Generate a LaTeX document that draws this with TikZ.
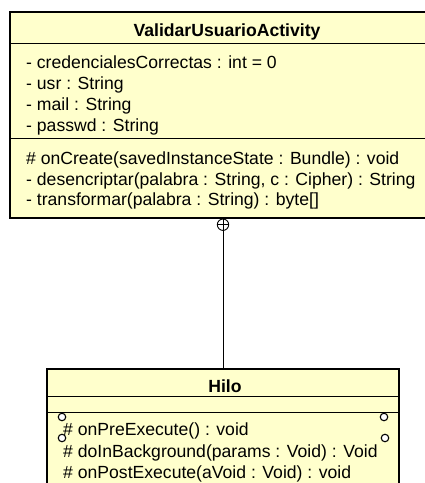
\documentclass[tikz,border=0pt]{standalone}
\usepackage{fontspec}
\setmainfont{Liberation Sans}
\usetikzlibrary{positioning}
\definecolor{umlfill}{RGB}{255, 255, 204}

\begin{document}
\begin{tikzpicture}[x=1pt, y=-1pt,
  classbox/.style={draw=black, line width=1.6pt, fill=umlfill, inner sep=0pt},
  member/.style={anchor=base west, inner sep=0pt, font=\fontsize{17.6}{21}\selectfont},
  classname/.style={anchor=base, inner sep=0pt, font=\fontsize{17.6}{21}\selectfont\bfseries},
  port/.style={draw, circle, fill=white, line width=1.1pt, minimum size=7.5pt, inner sep=0pt}
]
  \useasboundingbox (0,0) rectangle (424,483);

  % ValidarUsuarioActivity
  \node[classbox, minimum width=434pt, minimum height=206pt] (validar) at (227,115) {};
  \draw[line width=1pt] (validar.west |- 0,43) -- (validar.east |- 0,43);
  \draw[line width=1pt] (validar.west |- 0,138) -- (validar.east |- 0,138);
  \node[classname] (validarname) at (227,36) {ValidarUsuarioActivity};
  \node[member] (attr1) at (26,68) {- credencialesCorrectas : int = 0};
  \node[member] (attr2) at (26,89) {- usr : String};
  \node[member] (attr3) at (26,110) {- mail : String};
  \node[member] (attr4) at (26,131) {- passwd : String};
  \node[member] (op1) at (26,164) {\# onCreate(savedInstanceState : Bundle) : void};
  \node[member] (op2) at (26,185) {- desencriptar(palabra : String, c : Cipher) : String};
  \node[member] (op3) at (26,205) {- transformar(palabra : String) : byte[]};

  % Hilo
  \node[classbox, minimum width=352pt, minimum height=131pt] (hilo) at (223,434.5) {};
  \draw[line width=1pt] (hilo.west |- 0,396) -- (hilo.east |- 0,396);
  \draw[line width=1pt] (hilo.west |- 0,412) -- (hilo.east |- 0,412);
  \node[classname] (hiloname) at (225,392) {Hilo};
  \node[member] (hop1) at (63,435) {\# onPreExecute() : void};
  \node[member] (hop2) at (63,457) {\# doInBackground(params : Void) : Void};
  \node[member] (hop3) at (63,478) {\# onPostExecute(aVoid : Void) : void};
  \node[port] (p1) at (62,417) {};
  \node[port] (p2) at (62,438) {};
  \node[port] (p3) at (384,417) {};
  \node[port] (p4) at (385,438) {};

  % nesting connector
  \node[draw, circle, fill=white, line width=0.9pt, minimum size=11.4pt, inner sep=0pt] (nest) at (223,224.7) {};
  \draw[line width=0.9pt] (nest.north) -- (nest.south);
  \draw[line width=0.9pt] (nest.west) -- (nest.east);
  \draw[line width=0.9pt] (nest.south) -- (hilo.north);
\end{tikzpicture}
\end{document}
